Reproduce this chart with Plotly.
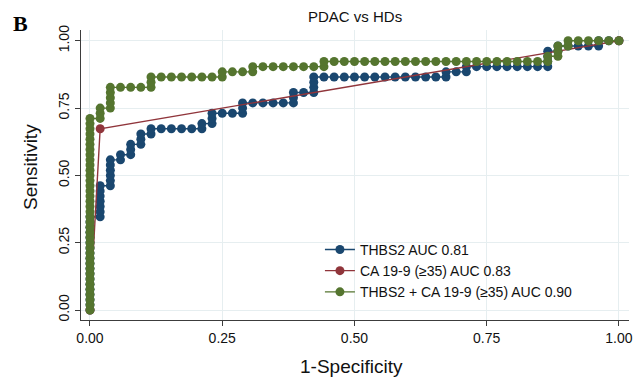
import plotly.graph_objects as go

N_HD = 52
N_PDAC = 52

THBS2_FP = [0, 0, 0, 0, 0, 0, 0, 0, 0, 0, 0, 0, 0, 0, 0, 0, 0, 0, 0,
            1, 1, 1, 1, 1, 1, 1,
            2, 2, 2, 2, 2, 2,
            3, 3,
            4, 4, 4,
            5, 5, 5,
            6, 6,
            7, 8, 9, 10,
            11, 11,
            12, 12, 12,
            13, 14,
            15, 15, 15,
            16, 17, 18, 19,
            20, 20, 20,
            21,
            22, 22, 22, 22,
            23, 24, 25, 26, 27, 28, 29, 30, 31, 32, 33, 34,
            35, 35,
            36,
            37, 37,
            38, 39, 40, 41, 42, 43, 44,
            45, 45, 45, 45,
            46, 46,
            47, 48, 49,
            50, 50,
            51,
            52]
THBS2_TP = [0, 1, 2, 3, 4, 5, 6, 7, 8, 9, 10, 11, 12, 13, 14, 15, 16, 17, 18,
            18, 19, 20, 21, 22, 23, 24,
            24, 25, 26, 27, 28, 29,
            29, 30,
            30, 31, 32,
            32, 33, 34,
            34, 35,
            35, 35, 35, 35,
            35, 36,
            36, 37, 38,
            38, 38,
            38, 39, 40,
            40, 40, 40, 40,
            40, 41, 42,
            42,
            42, 43, 44, 45,
            45, 45, 45, 45, 45, 45, 45, 45, 45, 45, 45, 45,
            45, 46,
            46,
            46, 47,
            47, 47, 47, 47, 47, 47, 47,
            47, 48, 49, 50,
            50, 51,
            51, 51, 51,
            51, 52,
            52,
            52]

CA199_FP = [0, 1, 52]
CA199_TP = [0, 35, 52]

COMBO_FP = [0, 0, 0, 0, 0, 0, 0, 0, 0, 0, 0, 0, 0, 0, 0, 0, 0, 0, 0, 0,
            0, 0, 0, 0, 0, 0, 0, 0, 0, 0, 0, 0, 0, 0, 0, 0, 0, 0,
            1, 1, 1,
            2, 2, 2, 2, 2,
            3, 4, 5,
            6, 6, 6,
            7, 8, 9, 10, 11, 12,
            13, 13,
            14, 15,
            16, 16,
            17, 18, 19, 20, 21, 22,
            23, 23,
            24, 25, 26, 27, 28, 29, 30, 31, 32, 33, 34, 35, 36, 37, 38, 39, 40, 41, 42, 43, 44,
            45, 45,
            46, 46, 46,
            47, 47,
            48, 49, 50, 51, 52]
COMBO_TP = [0, 1, 2, 3, 4, 5, 6, 7, 8, 9, 10, 11, 12, 13, 14, 15, 16, 17, 18, 19,
            20, 21, 22, 23, 24, 25, 26, 27, 28, 29, 30, 31, 32, 33, 34, 35, 36, 37,
            37, 38, 39,
            39, 40, 41, 42, 43,
            43, 43, 43,
            43, 44, 45,
            45, 45, 45, 45, 45, 45,
            45, 46,
            46, 46,
            46, 47,
            47, 47, 47, 47, 47, 47,
            47, 48,
            48, 48, 48, 48, 48, 48, 48, 48, 48, 48, 48, 48, 48, 48, 48, 48, 48, 48, 48, 48, 48,
            48, 49,
            49, 50, 51,
            51, 52,
            52, 52, 52, 52, 52]

SERIES = [
    ("THBS2 AUC 0.81", THBS2_FP, THBS2_TP, "#1a476f"),
    ("CA 19-9 (≥35) AUC 0.83", CA199_FP, CA199_TP, "#90353b"),
    ("THBS2 + CA 19-9 (≥35) AUC 0.90", COMBO_FP, COMBO_TP, "#55752f"),
]

TICKS = [0, 0.25, 0.5, 0.75, 1.0]
TICK_TEXT = ["0.00", "0.25", "0.50", "0.75", "1.00"]

FONT = "Liberation Sans, Arial, Helvetica, sans-serif"

fig = go.Figure()
for name, fp, tp, color in SERIES:
    fig.add_trace(go.Scatter(
        x=[v / N_HD for v in fp],
        y=[v / N_PDAC for v in tp],
        mode="lines+markers",
        name=name,
        line=dict(color=color, width=1.4),
        marker=dict(color=color, size=9, line=dict(width=0)),
    ))

axis_common = dict(
    tickvals=TICKS, ticktext=TICK_TEXT,
    showgrid=True, gridcolor="#e6eef0", gridwidth=1,
    zeroline=False, automargin=False,
    showline=True, linecolor="#3c3c3c", linewidth=1,
    ticks="outside", ticklen=5, tickcolor="#3c3c3c", tickwidth=1,
    tickfont=dict(family=FONT, size=14, color="#111"),
)

# page body has an 8px default margin, so the figure is sized to fit inside it
fig.update_layout(
    width=636, height=371,
    margin=dict(l=73, r=15, t=22, b=59, autoexpand=False),
    paper_bgcolor="white", plot_bgcolor="white",
    font=dict(family=FONT, color="#111"),
    xaxis=dict(range=[-0.017, 1.019], **axis_common),
    yaxis=dict(range=[-0.037, 1.04], tickangle=-90, **axis_common),
    legend=dict(x=0.436, y=0.297, xanchor="left", yanchor="top",
                bgcolor="rgba(0,0,0,0)", borderwidth=0,
                font=dict(family=FONT, size=14, color="#111"),
                tracegroupgap=0),
    showlegend=True,
)

fig.add_annotation(text="PDAC vs HDs", xref="paper", yref="paper",
                   x=0.5, y=1.045, xanchor="center", yanchor="middle", showarrow=False,
                   font=dict(family=FONT, size=15, color="#111"))
fig.add_annotation(text="1-Specificity", xref="paper", yref="paper",
                   x=0.4945, y=-0.159, xanchor="center", yanchor="middle", showarrow=False,
                   font=dict(family=FONT, size=19, color="#111"))
fig.add_annotation(text="Sensitivity", xref="paper", yref="paper", textangle=-90,
                   x=-0.0912, y=0.528, xanchor="center", yanchor="middle", showarrow=False,
                   font=dict(family=FONT, size=19, color="#111"))
fig.add_annotation(text="<b>B</b>", xref="paper", yref="paper",
                   x=-0.127, y=1.0241, xanchor="left", yanchor="middle", showarrow=False,
                   font=dict(family="Liberation Serif, Times New Roman, serif", size=22, color="#000"))

fig.write_html("out.html")
